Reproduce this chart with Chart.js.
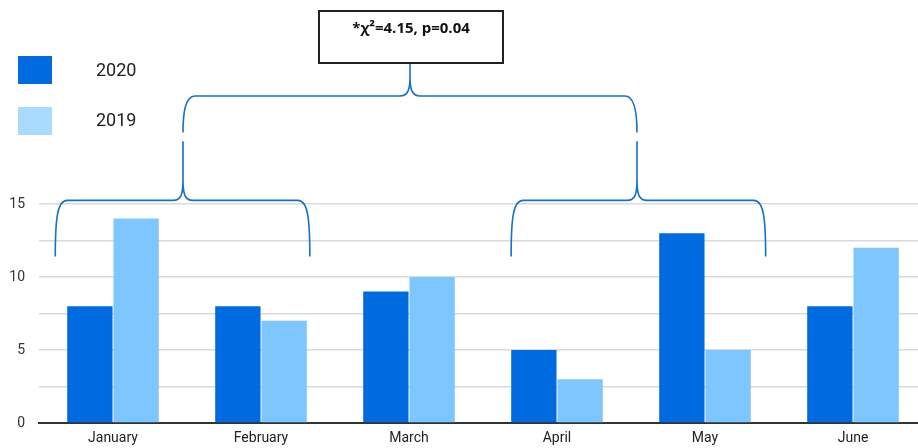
<!DOCTYPE html>
<html>
<head>
<meta charset="utf-8">
<script src="https://cdn.jsdelivr.net/npm/chart.js@4.4.1/dist/chart.umd.min.js"></script>
<style>
  html, body { margin: 0; padding: 0; background: #fff; overflow: hidden; }
  #wrap { width: 927px; height: 448px; position: relative; }
</style>
</head>
<body>
<div id="wrap"><canvas id="myChart" width="927" height="448"></canvas></div>
<script>
// ---- data ----
const months = ['January', 'February', 'March', 'April', 'May', 'June'];
const values2020 = [8, 8, 9, 5, 13, 8];
const values2019 = [14, 7, 10, 3, 5, 12];
const yTicks = [0, 5, 10, 15];
const statLabel = '*\u03C7\u00B2=4.15, p=0.04';

const DARK = '#006BE0';
const LIGHT = '#7DC6FF';
const LIGHT_LEGEND = '#A9DAFF';
const BRACE = '#1570CC';

// draws a curly brace: ends at yEnd, flat at yLine, cusp up to yTop at xm
function drawBrace(ctx, x0, x1, xm, yLine, yEnd, yTop) {
    const r = 12;
    const c = 10;
    ctx.beginPath();
    ctx.moveTo(x0, yEnd);
    ctx.bezierCurveTo(x0, yLine + 18, x0 + 2, yLine, x0 + r, yLine);
    ctx.lineTo(xm - c, yLine);
    ctx.bezierCurveTo(xm - 2, yLine, xm, yLine - 6, xm, yLine - 20);
    ctx.lineTo(xm, yTop);
    ctx.moveTo(xm, yLine - 20);
    ctx.bezierCurveTo(xm, yLine - 6, xm + 2, yLine, xm + c, yLine);
    ctx.lineTo(x1 - r, yLine);
    ctx.bezierCurveTo(x1 - 2, yLine, x1, yLine + 18, x1, yEnd);
    ctx.stroke();
}

const annotations = {
    id: 'annotations',
    afterDraw(chart) {
        const ctx = chart.ctx;
        const x = chart.scales.x;
        const y = chart.scales.y;
        const step = x.getPixelForValue(1) - x.getPixelForValue(0);

        // legend (vertical, top-left)
        ctx.save();
        ctx.fillStyle = DARK;
        ctx.fillRect(18, 56, 34, 28);
        ctx.fillStyle = LIGHT_LEGEND;
        ctx.fillRect(18, 107, 34, 28);
        ctx.fillStyle = '#222';
        ctx.font = '18px Roboto';
        ctx.textBaseline = 'middle';
        ctx.fillText('2020', 96, 71);
        ctx.fillText('2019', 96, 121);
        ctx.restore();

        // lower braces: Jan-Feb and Apr-May
        const lineLow = y.getPixelForValue(15.25);
        const endLow = y.getPixelForValue(11.4);
        const left0 = x.getPixelForValue(0) - step * 0.39;
        const left1 = x.getPixelForValue(1) + step * 0.33;
        const leftM = (x.getPixelForValue(0) + x.getPixelForValue(1)) / 2 - 4;
        const right0 = x.getPixelForValue(3) - step * 0.31;
        const right1 = x.getPixelForValue(4) + step * 0.41;
        const rightM = (x.getPixelForValue(3) + x.getPixelForValue(4)) / 2 + 6;
        const peakTop = y.getPixelForValue(19.3);

        ctx.save();
        ctx.strokeStyle = BRACE;
        ctx.lineWidth = 1.6;
        drawBrace(ctx, left0, left1, leftM, lineLow, endLow, peakTop);
        drawBrace(ctx, right0, right1, rightM, lineLow, endLow, peakTop);

        // upper brace joining the two
        const lineHigh = y.getPixelForValue(22.4);
        const endHigh = y.getPixelForValue(19.9);
        const topM = (leftM + rightM) / 2;
        const boxBottom = 63;
        drawBrace(ctx, leftM, rightM, topM, lineHigh, endHigh, boxBottom);
        ctx.restore();

        // stat box
        ctx.save();
        ctx.strokeStyle = '#222';
        ctx.lineWidth = 2;
        ctx.strokeRect(topM - 91, 11, 184, 52);
        ctx.fillStyle = '#111';
        ctx.font = 'bold 15px "Open Sans"';
        ctx.textAlign = 'center';
        ctx.textBaseline = 'middle';
        ctx.fillText(statLabel, topM + 1, 29);
        ctx.restore();
    }
};

const ctx = document.getElementById('myChart').getContext('2d');
const myChart = new Chart(ctx, {
    type: 'bar',
    data: {
        labels: months,
        datasets: [
            { label: '2020', data: values2020, backgroundColor: DARK },
            { label: '2019', data: values2019, backgroundColor: LIGHT }
        ]
    },
    options: {
        responsive: false,
        animation: false,
        devicePixelRatio: 1,
        categoryPercentage: 0.625,
        barPercentage: 0.98,
        layout: { padding: { top: 204, bottom: 1, left: 0, right: 0 } },
        plugins: { legend: { display: false }, tooltip: { enabled: false } },
        scales: {
            x: {
                afterFit(scale) { scale.height = 24; },
                grid: { display: false, drawTicks: false },
                border: { display: true, color: '#333', width: 2 },
                ticks: { color: '#222', font: { family: 'Roboto', size: 14 }, padding: 7 }
            },
            y: {
                min: 0,
                max: 15,
                afterFit(scale) { scale.width = 39; },
                afterBuildTicks(scale) {
                    const t = [];
                    for (let v = 0; v <= 15; v += 2.5) t.push({ value: v });
                    scale.ticks = t;
                },
                grid: { color: '#DADADA', lineWidth: 1.5, drawTicks: false },
                border: { display: false },
                ticks: {
                    color: '#333',
                    font: { family: 'Roboto', size: 14 },
                    padding: 14,
                    callback: v => yTicks.includes(v) ? String(v) : ''
                }
            }
        }
    },
    plugins: [annotations]
});
</script>
</body>
</html>
